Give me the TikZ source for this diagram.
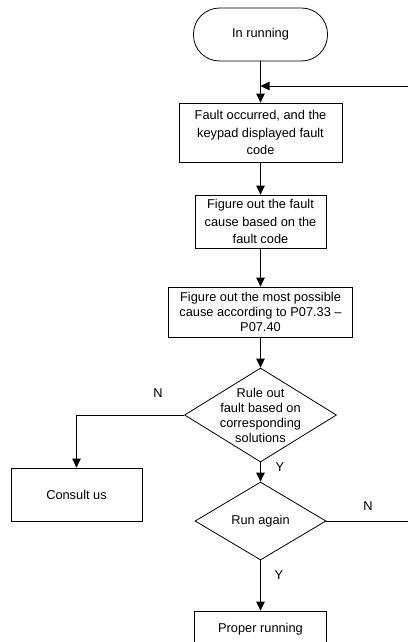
\documentclass[tikz,border=0pt]{standalone}
\usepackage{fontspec}
\setmainfont{Liberation Sans}
\usetikzlibrary{arrows.meta,shapes.geometric}
\begin{document}
\begin{tikzpicture}[
        x=1pt, y=-1pt,
        font=\fontsize{12.8}{17.5}\selectfont,
        line width=0.8pt,
        >={Triangle[length=9pt,width=8.5pt]},
        % plain process box
        procbox/.style={draw, rectangle, align=center, inner sep=0pt},
        tight/.style={font=\fontsize{12.8}{15}\selectfont},
        % start terminal
        startbox/.style={draw, rectangle, rounded corners=26pt, align=center,
            minimum width=134pt, minimum height=53pt},
        decision/.style={draw, diamond, inner sep=0pt},
        flow/.style={->},
        yn/.style={inner sep=0pt},
    ]
    \useasboundingbox (0,0) rectangle (408,642);

    \node[startbox] (start) at (260.5,34.5) {In running};
    \node[procbox, minimum width=163pt, minimum height=59pt] (fault) at (260.5,132.5)
        {Fault occurred, and the\\keypad displayed fault\\code};
    \node[procbox, minimum width=131pt, minimum height=53pt] (cause) at (260.5,221.5)
        {Figure out the fault\\cause based on the\\fault code};
    \node[procbox, tight, minimum width=184pt, minimum height=50pt] (possible) at (260.5,312)
        {Figure out the most possible\\cause according to P07.33 – \\P07.40};
    \node[decision, minimum width=152pt, minimum height=94pt,
        label={[align=center, tight]center:Rule out\\fault based on\\corresponding\\solutions}]
        (ruleout) at (260.5,415) {};
    \node[procbox, minimum width=131pt, minimum height=53pt] (consult) at (76.5,494.5)
        {Consult us};
    \node[decision, minimum width=131pt, minimum height=78pt] (again) at (260.5,521)
        {Run again};
    \node[procbox, minimum width=132pt, minimum height=36pt] (proper) at (260.5,629)
        {Proper running};

    \coordinate (back) at (408,86);
    \coordinate (stop) at (408,521);

    \draw[flow] (start) -- (fault);
    \draw[flow] (back) -- (back -| fault.north);
    \draw[flow] (fault) -- (cause);
    \draw[flow] (cause) -- (possible);
    \draw[flow] (possible) -- (ruleout);
    \draw[flow] (ruleout.west) -| (consult.north);
    \draw[flow] (ruleout) -- (again);
    \draw (again.east) -- (stop);
    \draw[flow] (again) -- (proper);

    % Y / N marks
    \node[yn] (n1) at (158,393) {N};
    \node[yn] (y1) at (280,467) {Y};
    \node[yn] (n2) at (368,506) {N};
    \node[yn] (y2) at (279,575) {Y};
\end{tikzpicture}
\end{document}
